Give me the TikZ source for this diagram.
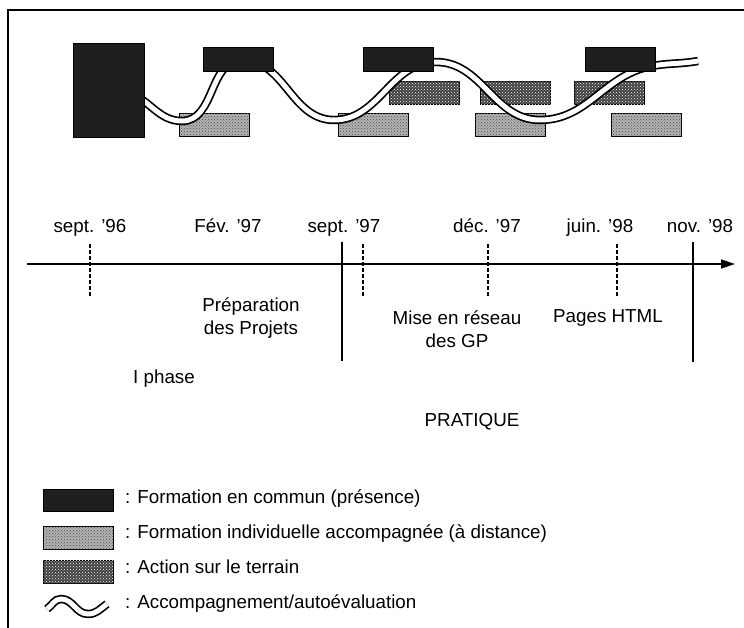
\documentclass[tikz,border=0pt]{standalone}
\usepackage{fontspec}
\setmainfont{Liberation Sans}
\usetikzlibrary{arrows.meta,patterns}

\begin{document}
\begin{tikzpicture}[
    x=1pt, y=-1pt,
    font=\fontsize{18.8}{23}\selectfont,
    % blocks of the planning, placed by their top left corner
    blk/.style={draw=black, line width=1.3pt, anchor=north west, inner sep=0pt,
                minimum width=70pt, minimum height=23pt},
    % fill variants
    commun/.style={blk, fill=black!88},
    indiv/.style={blk, fill=black!30,
                  postaction={pattern=crosshatch dots, pattern color=black!70}},
    terrain/.style={blk, fill=black!75,
                    postaction={pattern=crosshatch dots, pattern color=white}},
    % accompanying double wave
    wave/.style={draw=black, line width=1.7pt, double=white, double distance=5pt},
    % time axis
    axe/.style={line width=1.4pt, -{Triangle[length=14pt,width=9pt]}},
    sep/.style={line width=1.4pt},
    tick/.style={line width=1.3pt, dash pattern=on 4pt off 2pt},
    % texts
    date/.style={anchor=base},
    txt/.style={align=center, anchor=north, inner sep=0pt},
    leg/.style={anchor=base west, inner sep=0pt},
]
\useasboundingbox (0,0) rectangle (744,628);

% frame (top and left only)
\draw[line width=1.6pt] (744,10) -- (8,10) -- (8,628);

%% -- planning: individual and field blocks first --
\node[indiv]   (fi1) at (179,113) {};
\node[indiv]   (fi2) at (338,113) {};
\node[indiv]   (fi3) at (475,113) {};
\node[indiv]   (fi4) at (611,113) {};
\node[terrain] (ac1) at (389,81)  {};
\node[terrain] (ac2) at (480,81)  {};
\node[terrain] (ac3) at (574,81)  {};

%% -- accompanying wave --
\draw[wave] (126,92) to[out=-15,in=180] (182,121) to[out=0,in=180] (242,60)
    to[out=0,in=180] (334,120) to[out=0,in=180] (436,62)
    to[out=0,in=180] (540,120) to[out=0,in=190] (652,66)
    to[out=10,in=190] (698,61);

%% -- common training blocks on top --
\node[commun, minimum width=71pt, minimum height=94pt] (cp0) at (73,43) {};
\node[commun, minimum height=24pt] (cp1) at (203,47) {};
\node[commun, minimum height=24pt] (cp2) at (363,47) {};
\node[commun, minimum height=24pt] (cp3) at (585,47) {};

%% -- time axis --
\coordinate (t0) at (27,264);
\coordinate (t1) at (735,264);
\draw[axe] (t0) -- (t1);

\node[date] (d1) at (90,233)  {sept. '96};
\node[date] (d2) at (228,233) {Fév. '97};
\node[date] (d3) at (344,233) {sept. '97};
\node[date] (d4) at (487,233) {déc. '97};
\node[date] (d5) at (600,233) {juin. '98};
\node[date] (d6) at (700,233) {nov. '98};

\draw[tick] (90,244)  -- (90,296);
\draw[tick] (363,244) -- (363,296);
\draw[tick] (488,244) -- (488,296);
\draw[tick] (617,244) -- (617,296);
\draw[sep]  (342,242) -- (342,361);
\draw[sep]  (693,242) -- (693,362);

\node[txt]  (prep) at (251,297) {Préparation\\des Projets};
\node[txt]  (gp)   at (457,310) {Mise en réseau\\des GP};
\node[date] (html) at (608,322) {Pages HTML};
\node[leg]  (ph1)  at (133,383) {I phase};
\node[date] (prat) at (472,426) {PRATIQUE};

%% -- legend --
\node[commun, minimum height=22pt] (lg1) at (43,489) {};
\node[indiv]                       (lg2) at (43,526) {};
\node[terrain]                     (lg3) at (43,560) {};
\draw[wave] (47,609) to[out=35,in=180] (61,599) to[out=0,in=180] (88,614)
    to[out=0,in=-145] (107,604);

\node[leg] (lt1) at (125,503) {: Formation en commun (présence)};
\node[leg] (lt2) at (125,538) {: Formation individuelle accompagnée (à distance)};
\node[leg] (lt3) at (125,573) {: Action sur le terrain};
\node[leg] (lt4) at (125,608) {: Accompagnement/autoévaluation};

\end{tikzpicture}
\end{document}
